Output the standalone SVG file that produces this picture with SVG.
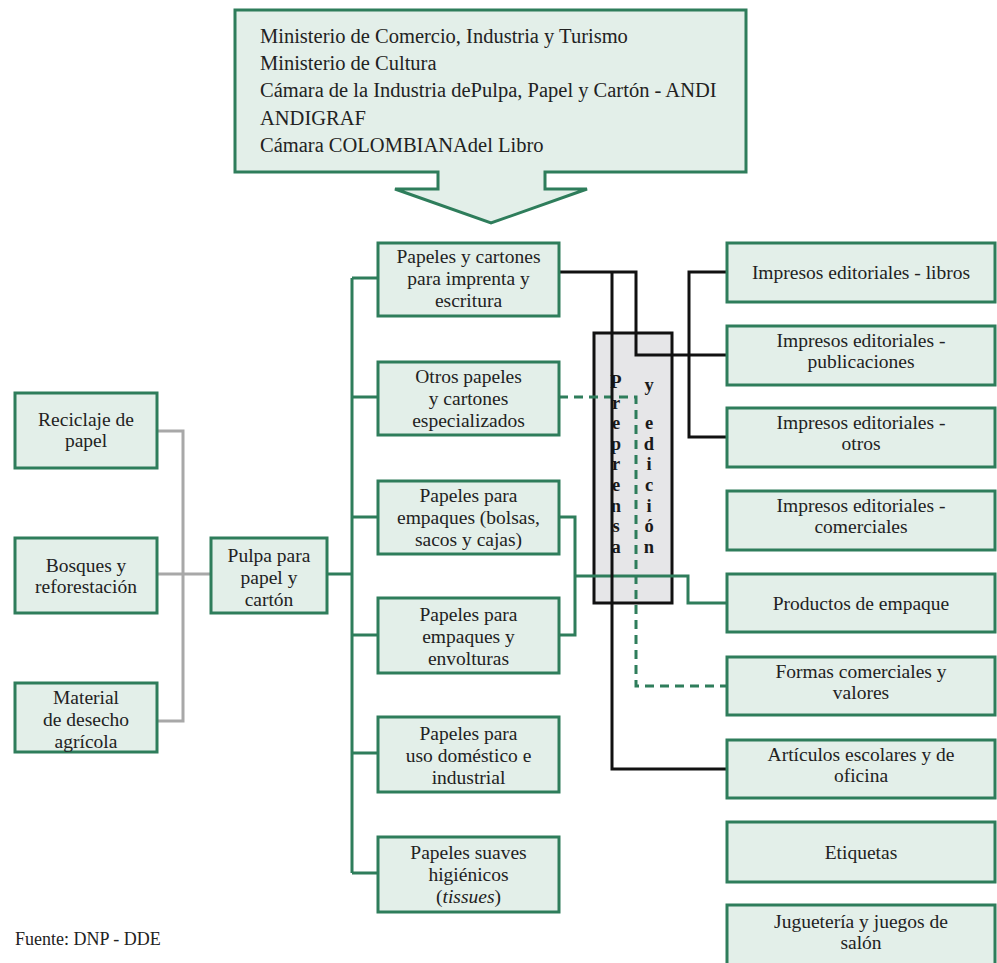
<svg xmlns="http://www.w3.org/2000/svg" width="997" height="963" viewBox="0 0 997 963">
<style>
.box{fill:#e3efe9;stroke:#2e7d5b;stroke-width:3}
.t{font-family:"Liberation Serif","Times New Roman",serif;font-size:19.5px;fill:#222;text-anchor:middle}
.tl{font-family:"Liberation Serif","Times New Roman",serif;font-size:20.5px;fill:#222}
.v{font-family:"Liberation Serif","Times New Roman",serif;font-size:18.5px;font-weight:bold;fill:#1a1a1a;text-anchor:middle}
.g{stroke:#2e7d5b;stroke-width:3;fill:none}
.k{stroke:#111;stroke-width:3;fill:none}
.gr{stroke:#a8a8a8;stroke-width:3;fill:none}
.d{stroke-dasharray:9 6}
</style>
<rect width="997" height="963" fill="#fff"/>
<g id="entidades">
<polygon class="box" points="235,10 746,10 746,172 545,172 545,189 587,189 491,223 395,189 438,189 438,172 235,172"/>
<text class="tl"><tspan x="260" y="43">Ministerio de Comercio, Industria y Turismo</tspan><tspan x="260" y="70">Ministerio de Cultura</tspan><tspan x="260" y="97">Cámara de la Industria dePulpa, Papel y Cartón - ANDI</tspan><tspan x="260" y="125">ANDIGRAF</tspan><tspan x="260" y="152">Cámara COLOMBIANAdel Libro</tspan></text>
</g>
<g id="preprensa">
<rect x="594" y="333" width="78" height="270" fill="#e6e6e8" stroke="#111" stroke-width="3"/>
<text class="v"><tspan x="616" y="388">P</tspan><tspan x="616" y="408.6">r</tspan><tspan x="616" y="429.2">e</tspan><tspan x="616" y="449.8">p</tspan><tspan x="616" y="470.4">r</tspan><tspan x="616" y="491">e</tspan><tspan x="616" y="511.6">n</tspan><tspan x="616" y="532.2">s</tspan><tspan x="616" y="552.8">a</tspan></text>
<text class="v" font-weight="normal"><tspan x="649" y="391">y</tspan><tspan x="649" y="429.2">e</tspan><tspan x="649" y="449.8">d</tspan><tspan x="649" y="470.4">i</tspan><tspan x="649" y="491">c</tspan><tspan x="649" y="511.6">i</tspan><tspan x="649" y="532.2">ó</tspan><tspan x="649" y="552.8">n</tspan></text>
</g>
<g id="connectors">
<path class="gr" d="M157,431 H183 V721 H157 M157,574 H211"/>
<path class="g" d="M327,574 H352 M352,278 V873 M352,278 H378 M352,397 H378 M352,517 H378 M352,635 H378 M352,753 H378 M352,873 H378"/>
<path class="g" d="M559,517 H575 V635 H559 M575,576 H688 V603 H727"/>
<path class="g d" d="M559,397 H636 V686 H727"/>
<path class="k" d="M559,272 H636 V355 H727 M612,272 V769 H727 M727,272 H689 V437 H727"/>
</g>
<g id="reciclaje"><rect class="box" x="15" y="393" width="142" height="75"/><text class="t"><tspan x="86" y="425.5">Reciclaje de</tspan><tspan x="86" y="447.1">papel</tspan></text></g>
<g id="bosques"><rect class="box" x="15" y="538" width="142" height="75"/><text class="t"><tspan x="86" y="571.5">Bosques y</tspan><tspan x="86" y="593.1">reforestación</tspan></text></g>
<g id="material"><rect class="box" x="15" y="683" width="142" height="69"/><text class="t"><tspan x="86" y="704.4">Material</tspan><tspan x="86" y="726">de desecho</tspan><tspan x="86" y="747.6">agrícola</tspan></text></g>
<g id="pulpa"><rect class="box" x="211" y="538" width="116" height="75"/><text class="t"><tspan x="269" y="562.4">Pulpa para</tspan><tspan x="269" y="584">papel y</tspan><tspan x="269" y="605.6">cartón</tspan></text></g>
<g id="imprenta"><rect class="box" x="378" y="243" width="181" height="73"/><text class="t"><tspan x="468.5" y="263.4">Papeles y cartones</tspan><tspan x="468.5" y="285">para imprenta y</tspan><tspan x="468.5" y="306.6">escritura</tspan></text></g>
<g id="especializados"><rect class="box" x="378" y="362" width="181" height="73"/><text class="t"><tspan x="468.5" y="383.4">Otros papeles</tspan><tspan x="468.5" y="405">y cartones</tspan><tspan x="468.5" y="426.6">especializados</tspan></text></g>
<g id="bolsas"><rect class="box" x="378" y="481" width="181" height="73"/><text class="t"><tspan x="468.5" y="502.4">Papeles para</tspan><tspan x="468.5" y="524">empaques (bolsas,</tspan><tspan x="468.5" y="545.6">sacos y cajas)</tspan></text></g>
<g id="envolturas"><rect class="box" x="378" y="598" width="181" height="75"/><text class="t"><tspan x="468.5" y="621.4">Papeles para</tspan><tspan x="468.5" y="643">empaques y</tspan><tspan x="468.5" y="664.6">envolturas</tspan></text></g>
<g id="domestico"><rect class="box" x="378" y="717" width="181" height="75"/><text class="t"><tspan x="468.5" y="740.4">Papeles para</tspan><tspan x="468.5" y="762">uso doméstico e</tspan><tspan x="468.5" y="783.6">industrial</tspan></text></g>
<g id="tissues"><rect class="box" x="378" y="837" width="181" height="75"/><text class="t"><tspan x="468.5" y="859.4">Papeles suaves</tspan><tspan x="468.5" y="881">higiénicos</tspan><tspan x="468.5" y="902.6">(<tspan font-style="italic">tissues</tspan>)</tspan></text></g>
<g id="libros"><rect class="box" x="727" y="243" width="268" height="59"/><text class="t"><tspan x="861" y="279">Impresos editoriales - libros</tspan></text></g>
<g id="publicaciones"><rect class="box" x="727" y="326" width="268" height="59"/><text class="t"><tspan x="861" y="346.5">Impresos editoriales -</tspan><tspan x="861" y="368.1">publicaciones</tspan></text></g>
<g id="otros"><rect class="box" x="727" y="408" width="268" height="59"/><text class="t"><tspan x="861" y="428.5">Impresos editoriales -</tspan><tspan x="861" y="450.1">otros</tspan></text></g>
<g id="comerciales"><rect class="box" x="727" y="491" width="268" height="59"/><text class="t"><tspan x="861" y="511.5">Impresos editoriales -</tspan><tspan x="861" y="533.1">comerciales</tspan></text></g>
<g id="empaque"><rect class="box" x="727" y="574" width="268" height="58"/><text class="t"><tspan x="861" y="610">Productos de empaque</tspan></text></g>
<g id="formas"><rect class="box" x="727" y="657" width="268" height="58"/><text class="t"><tspan x="861" y="677.5">Formas comerciales y</tspan><tspan x="861" y="699.1">valores</tspan></text></g>
<g id="articulos"><rect class="box" x="727" y="740" width="268" height="58"/><text class="t"><tspan x="861" y="760.5">Artículos escolares y de</tspan><tspan x="861" y="782.1">oficina</tspan></text></g>
<g id="etiquetas"><rect class="box" x="727" y="822" width="268" height="60"/><text class="t"><tspan x="861" y="859">Etiquetas</tspan></text></g>
<g id="jugueteria"><rect class="box" x="727" y="905" width="268" height="62"/><text class="t"><tspan x="861" y="927.5">Juguetería y juegos de</tspan><tspan x="861" y="949.1">salón</tspan></text></g>
<text x="15" y="945" font-family="Liberation Serif, Times New Roman, serif" font-size="18" fill="#222">Fuente: DNP - DDE</text>
</svg>
